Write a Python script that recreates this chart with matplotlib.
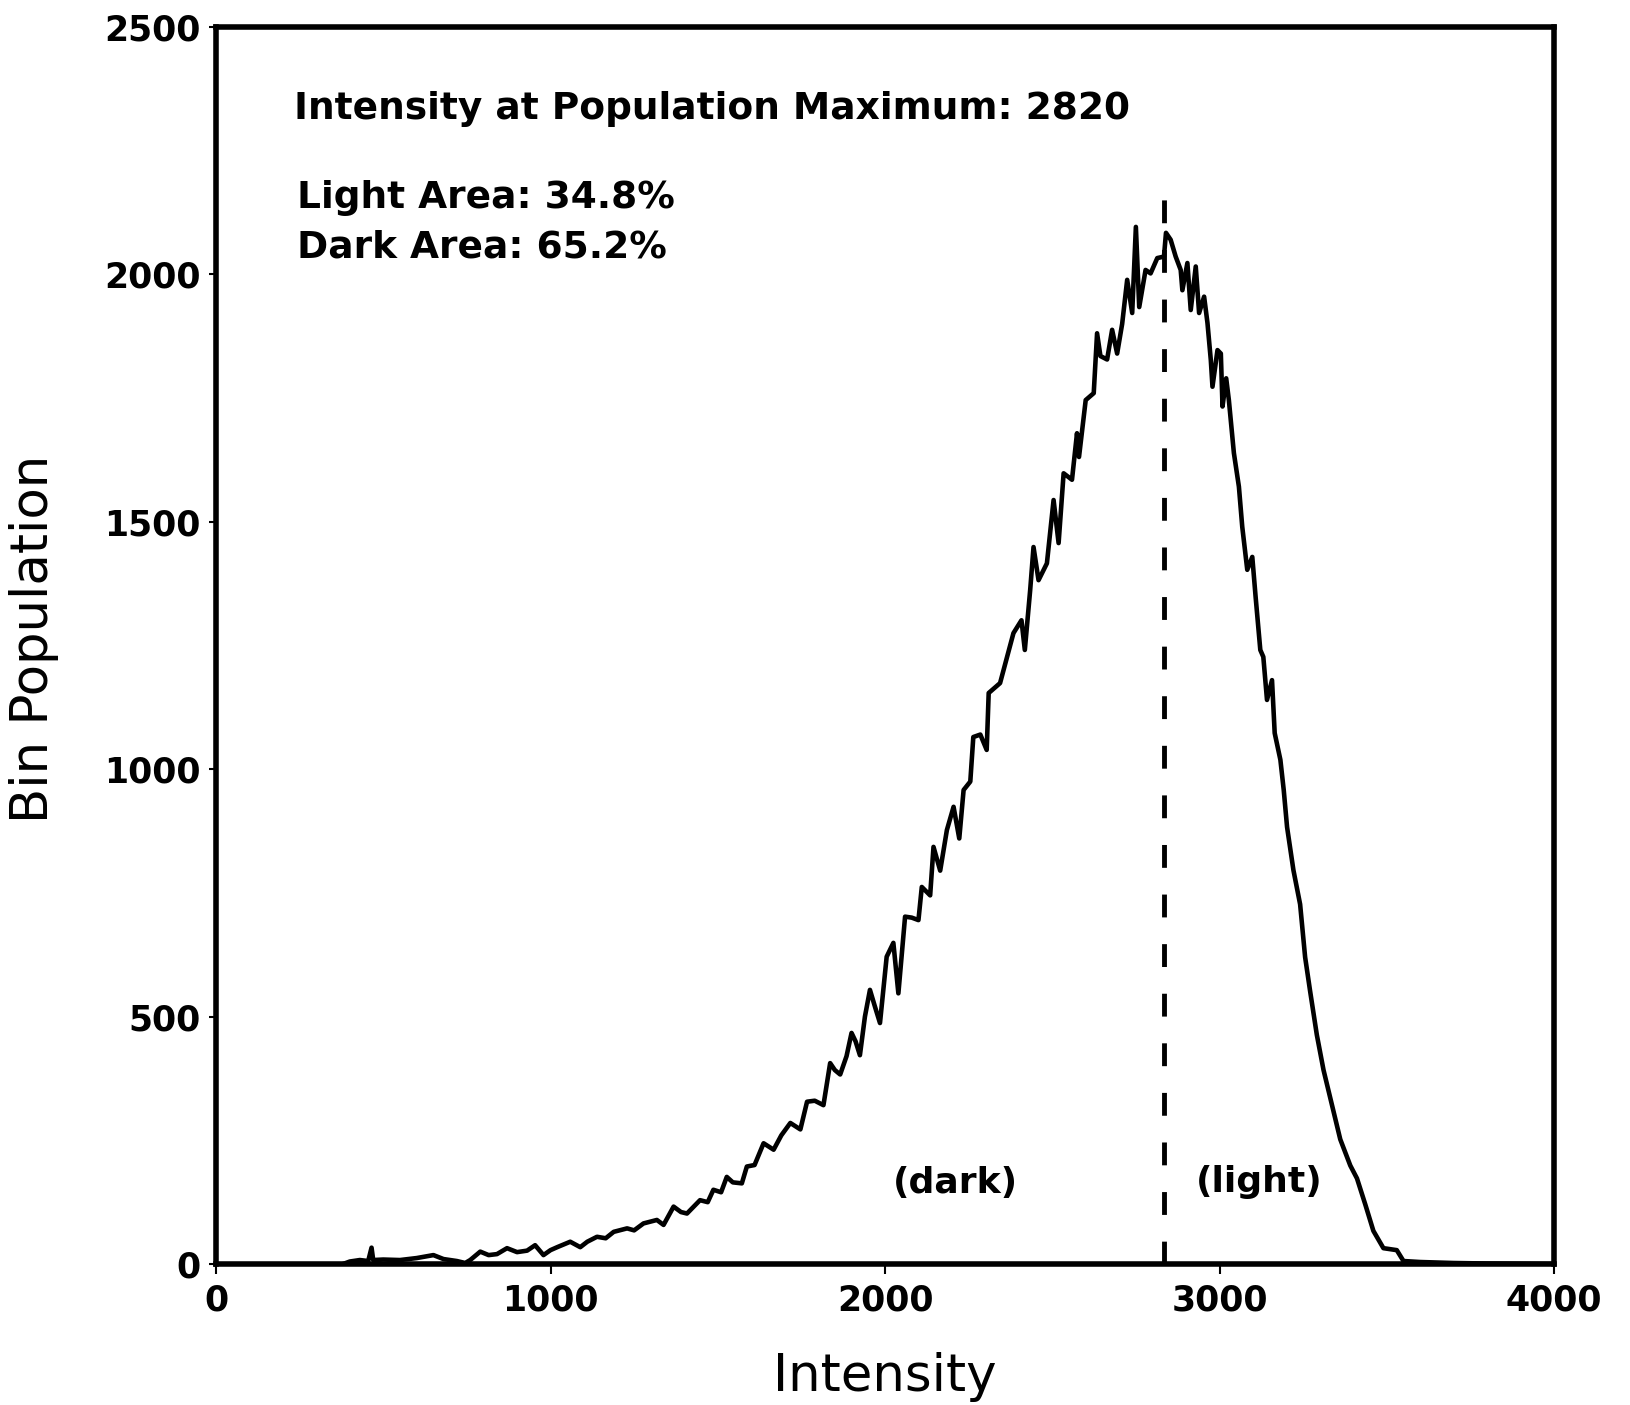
import matplotlib
matplotlib.use("Agg")
import matplotlib.pyplot as plt

# ---- data ----
intensity = [380, 400, 430, 455, 465, 470, 500, 550, 600, 650, 680, 720, 745, 760, 790,
             815, 840, 870, 900, 930, 954, 979, 1000, 1020, 1059, 1089, 1110, 1139, 1165,
             1189, 1229, 1250, 1278, 1318, 1338, 1368, 1390, 1408, 1447, 1470, 1487, 1510,
             1527, 1545, 1572, 1587, 1610, 1637, 1667, 1690, 1717, 1747, 1767, 1790, 1816,
             1836, 1850, 1866, 1885, 1900, 1912, 1925, 1940, 1955, 1970, 1985, 2005, 2025,
             2040, 2060, 2080, 2100, 2110, 2135, 2145, 2165, 2185, 2205, 2222, 2235, 2255,
             2264, 2285, 2304, 2310, 2344, 2384, 2408, 2418, 2434, 2444, 2459, 2484, 2504,
             2519, 2534, 2559, 2574, 2580, 2600, 2624, 2634, 2644, 2664, 2679, 2694, 2709,
             2724, 2739, 2750, 2760, 2779, 2794, 2814, 2834, 2840, 2854, 2869, 2884, 2889,
             2904, 2914, 2929, 2939, 2954, 2964, 2974, 2979, 2994, 3004, 3009, 3020, 3028,
             3043, 3058, 3068, 3083, 3098, 3108, 3122, 3131, 3142, 3157, 3165, 3182, 3192,
             3202, 3221, 3241, 3256, 3271, 3291, 3311, 3336, 3361, 3391, 3411, 3436, 3460,
             3490, 3530, 3550, 3600, 3700, 3800, 4000]
population = [0, 5, 8, 6, 33, 8, 9, 8, 12, 18, 10, 6, 2, 8, 25,
              18, 20, 32, 24, 27, 38, 18, 28, 34, 45, 34, 45, 55, 52,
              65, 72, 68, 82, 89, 79, 116, 105, 102, 129, 125, 150, 145,
              176, 165, 163, 197, 200, 244, 231, 260, 285, 272, 328, 330, 321,
              406, 392, 383, 420, 467, 450, 422, 500, 554, 520, 487, 621, 649,
              547, 702, 700, 695, 762, 745, 843, 795, 877, 924, 860, 958, 975,
              1065, 1070, 1039, 1154, 1174, 1275, 1301, 1241, 1362, 1449, 1382, 1416, 1544,
              1457, 1598, 1585, 1679, 1631, 1746, 1760, 1881, 1835, 1828, 1888, 1840, 1900,
              1989, 1922, 2096, 1934, 2009, 2002, 2033, 2036, 2084, 2070, 2036, 2009, 1968,
              2023, 1928, 2016, 1922, 1955, 1902, 1827, 1773, 1847, 1840, 1733, 1790, 1746,
              1639, 1571, 1490, 1403, 1429, 1348, 1241, 1227, 1140, 1180, 1073, 1019, 958,
              883, 796, 727, 620, 551, 463, 392, 322, 252, 199, 173, 120, 67,
              32, 28, 6, 4, 2, 1, 0]

peak_intensity = 2835
x_ticks = [0, 1000, 2000, 3000, 4000]
y_ticks = [0, 500, 1000, 1500, 2000, 2500]
header = "Intensity at Population Maximum: 2820"
light_text = "Light Area: 34.8%"
dark_text = "Dark Area: 65.2%"

fig = plt.figure(figsize=(16.3, 14.05), dpi=100)
ax = fig.add_axes([216 / 1630, 1 - 1264 / 1405, 1338 / 1630, 1237 / 1405])

ax.plot(intensity, population, color="black", lw=3.3, solid_joinstyle="round")
ax.plot([peak_intensity, peak_intensity], [0, 2170], color="black", lw=3.5,
        linestyle=(0, (4.7, 5.5)), dash_capstyle="butt")

ax.set_xlim(0, 4000)
ax.set_ylim(0, 2500)
ax.set_xticks(x_ticks)
ax.set_yticks(y_ticks)
ax.set_xticklabels([str(v) for v in x_ticks], fontsize=25, fontweight="bold", family="DejaVu Sans")
ax.set_yticklabels([str(v) for v in y_ticks], fontsize=25, fontweight="bold", family="DejaVu Sans")
ax.tick_params(axis="x", direction="out", length=7, width=1.5, pad=7)
ax.tick_params(axis="y", direction="out", length=5, width=1.5, pad=6)
for s in ax.spines.values():
    s.set_linewidth(4)

ax.set_xlabel("Intensity", fontsize=37, family="DejaVu Sans")
ax.xaxis.set_label_coords(0.5, -0.091)
ax.xaxis.label.set_va("center")
ax.set_ylabel("Bin Population", fontsize=37, family="DejaVu Sans")
ax.yaxis.set_label_coords(-0.136, 0.505)
ax.yaxis.label.set_va("center")

ax.text(233, 2334, header, fontsize=27, fontweight="bold", ha="left", va="center", family="DejaVu Sans")
ax.text(242, 2155, light_text, fontsize=27, fontweight="bold", ha="left", va="center", family="DejaVu Sans")
ax.text(242, 2055, dark_text, fontsize=27, fontweight="bold", ha="left", va="center", family="DejaVu Sans")
ax.text(2210, 164, "(dark)", fontsize=26, fontweight="bold", ha="center", va="center", family="DejaVu Sans")
ax.text(3118, 166, "(light)", fontsize=26, fontweight="bold", ha="center", va="center", family="DejaVu Sans")

fig.savefig("out.png", dpi=100, facecolor="white")
